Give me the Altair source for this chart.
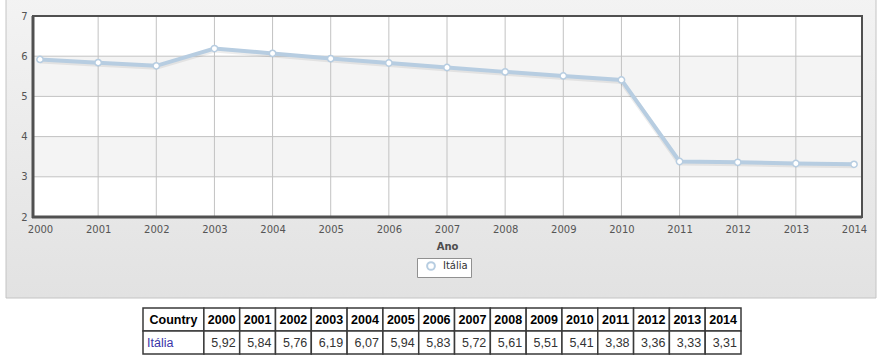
import altair as alt
import pandas as pd

# ---------------- data ----------------
years = [2000, 2001, 2002, 2003, 2004, 2005, 2006, 2007, 2008, 2009, 2010, 2011, 2012, 2013, 2014]
values = [5.92, 5.84, 5.76, 6.19, 6.07, 5.94, 5.83, 5.72, 5.61, 5.51, 5.41, 3.38, 3.36, 3.33, 3.31]
series_name = "Itália"
y_ticks = [2, 3, 4, 5, 6, 7]
grid_years = years[1:-1]
grid_y = [3, 4, 5, 6]
band_lo = [3, 5]
band_hi = [4, 6]
table_header = ["Country"] + [str(y) for y in years]
table_row = [series_name] + [f"{v:.2f}".replace(".", ",") for v in values]
col_units = [1.7] + [1.0] * len(years)

# ---------------- layout / style ----------------
W, H = 829, 201
LINE = "#b7cde1"
FONT = "DejaVu Sans"
TFONT = "Liberation Sans"

xs = alt.Scale(domain=[2000, 2014], range=[7, 821], nice=False, zero=False)
ys = alt.Scale(domain=[2, 7], range=[H, 0], nice=False, zero=False)

one = pd.DataFrame({"k": [0]})
line_df = pd.DataFrame({"year": years, "value": values, "series": [series_name] * len(years)})
bands_df = pd.DataFrame({"lo": band_lo, "hi": band_hi})
vg_df = pd.DataFrame({"gx": grid_years})
hg_df = pd.DataFrame({"gy": grid_y})

grad = alt.Gradient(
    gradient="linear", x1=0, y1=0, x2=0, y2=1,
    stops=[alt.GradientStop(color="#f3f3f3", offset=0), alt.GradientStop(color="#e2e2e2", offset=1)],
)

panel = alt.Chart(one).mark_rect(fill=grad, stroke="#c4c4c4", strokeWidth=1).encode(
    x=alt.value(-27), x2=alt.value(843), y=alt.value(-20), y2=alt.value(282)
)
plotbg = alt.Chart(one).mark_rect(fill="white").encode(
    x=alt.value(0), x2=alt.value(W), y=alt.value(0), y2=alt.value(H)
)
bands = alt.Chart(bands_df).mark_rect(fill="#f4f4f4").encode(
    y=alt.Y("lo:Q", scale=ys, axis=None), y2="hi:Q", x=alt.value(0), x2=alt.value(W)
)
vgrid = alt.Chart(vg_df).mark_rule(color="#c2c2c2", strokeWidth=1).encode(
    x=alt.X("gx:Q", scale=xs, axis=None), y=alt.value(0), y2=alt.value(H)
)
hgrid = alt.Chart(hg_df).mark_rule(color="#c2c2c2", strokeWidth=1).encode(
    y=alt.Y("gy:Q", scale=ys, axis=None), x=alt.value(0), x2=alt.value(W)
)
frame = alt.Chart(one).mark_rect(filled=False, stroke="#505050", strokeWidth=2).encode(
    x=alt.value(0), x2=alt.value(W), y=alt.value(0), y2=alt.value(H)
)
left_edge = alt.Chart(one).mark_rule(color="#505050", strokeWidth=3).encode(
    x=alt.value(0), y=alt.value(0), y2=alt.value(H + 1)
)
bottom_edge = alt.Chart(one).mark_rule(color="#505050", strokeWidth=3).encode(
    y=alt.value(H), x=alt.value(-1), x2=alt.value(W)
)

x_axis = alt.Axis(
    values=years, format="d", grid=False, domain=False, ticks=False, zindex=1,
    labelFont=FONT, labelFontSize=10, labelColor="#555", labelPadding=7,
    labelFlush=False, labelOverlap=False,
    title="Ano", titleFont=FONT, titleFontSize=10, titleFontWeight="bold",
    titleColor="#4d4d4d", titlePadding=7,
)
y_axis = alt.Axis(
    values=y_ticks, grid=False, domain=False, ticks=False, zindex=1,
    labelFont=FONT, labelFontSize=10, labelColor="#555", labelPadding=6, title=None,
)

shadow = alt.Chart(line_df).mark_line(color="black", strokeWidth=5, opacity=0.07, yOffset=1.5).encode(
    x=alt.X("year:Q", scale=xs, axis=None), y=alt.Y("value:Q", scale=ys, axis=None)
)
line = alt.Chart(line_df).mark_line(color=LINE, strokeWidth=4).encode(
    x=alt.X("year:Q", scale=xs, axis=x_axis), y=alt.Y("value:Q", scale=ys, axis=y_axis)
)
points = alt.Chart(line_df).mark_point(
    filled=False, fill="white", fillOpacity=1, size=40, strokeWidth=1.5, opacity=1
).encode(
    x=alt.X("year:Q", scale=xs, axis=None),
    y=alt.Y("value:Q", scale=ys, axis=None),
    color=alt.Color(
        "series:N",
        scale=alt.Scale(domain=[series_name], range=[LINE]),
        legend=alt.Legend(
            title=None, orient="none", legendX=384, legendY=242,
            fillColor="white", strokeColor="#909090", padding=3, cornerRadius=0,
            symbolType="circle", symbolSize=60, symbolStrokeWidth=2,
            symbolFillColor="white", symbolStrokeColor=LINE, symbolOffset=6,
            labelFont=FONT, labelFontSize=10, labelColor="#333", labelOffset=7,
        ),
    ),
)

# ---------------- table ----------------
rows = []
start = 0.0
for c, u in enumerate(col_units):
    for r, txt in enumerate([table_header[c], table_row[c]]):
        kind = "head" if r == 0 else ("name" if c == 0 else "num")
        rows.append({
            "x0": start, "x1": start + u, "xc": start + u / 2,
            "r0": r, "r1": r + 1, "rc": r + 0.5, "text": txt, "kind": kind,
        })
    start += u
cells_df = pd.DataFrame(rows)

tx = alt.Scale(domain=[0, sum(col_units)], range=[110, 708], nice=False, zero=False)
ty = alt.Scale(domain=[0, 2], range=[292, 338], nice=False, zero=False)

cells = alt.Chart(cells_df).mark_rect(fill="white", stroke="#3a3a3a", strokeWidth=1.5).encode(
    x=alt.X("x0:Q", scale=tx, axis=None), x2="x1:Q",
    y=alt.Y("r0:Q", scale=ty, axis=None), y2="r1:Q",
)
head_text = alt.Chart(cells_df).transform_filter(alt.datum.kind == "head").mark_text(
    font=TFONT, fontSize=12.5, fontWeight="bold", align="center", baseline="middle", color="black"
).encode(
    x=alt.X("xc:Q", scale=tx, axis=None), y=alt.Y("rc:Q", scale=ty, axis=None), text="text:N"
)
name_text = alt.Chart(cells_df).transform_filter(alt.datum.kind == "name").mark_text(
    font=TFONT, fontSize=12.5, align="left", baseline="middle", color="#3b35a8", dx=4
).encode(
    x=alt.X("x0:Q", scale=tx, axis=None), y=alt.Y("rc:Q", scale=ty, axis=None), text="text:N"
)
num_text = alt.Chart(cells_df).transform_filter(alt.datum.kind == "num").mark_text(
    font=TFONT, fontSize=12.5, align="right", baseline="middle", color="#333", dx=-4
).encode(
    x=alt.X("x1:Q", scale=tx, axis=None), y=alt.Y("rc:Q", scale=ty, axis=None), text="text:N"
)

chart = alt.layer(
    panel, plotbg, bands, vgrid, hgrid, shadow, line, points, frame, left_edge, bottom_edge,
    cells, head_text, name_text, num_text,
).resolve_scale(x="independent", y="independent").properties(
    width=W, height=H,
    padding={"left": 33, "top": 16, "right": 18, "bottom": 139},
    autosize=alt.AutoSizeParams(type="none"),
    background="white",
).configure_view(stroke=None)

chart.save("out.html", embed_options={"renderer": "svg", "actions": False})
